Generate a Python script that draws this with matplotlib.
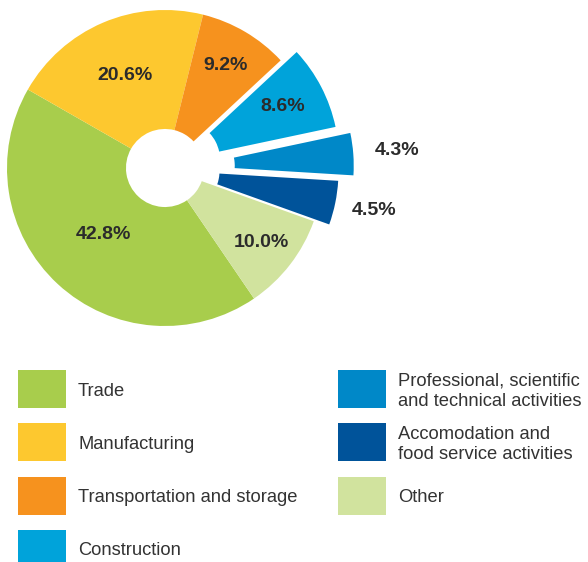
import numpy as np
import matplotlib
matplotlib.use("Agg")
import matplotlib.pyplot as plt
from matplotlib.patches import Rectangle

plt.rcParams["font.family"] = ["Liberation Sans", "DejaVu Sans"]

# data, in legend order (pie runs clockwise in this order)
sectors = [
    "Trade",
    "Manufacturing",
    "Transportation and storage",
    "Construction",
    "Professional, scientific\nand technical activities",
    "Accomodation and\nfood service activities",
    "Other",
]
shares = [42.8, 20.6, 9.2, 8.6, 4.3, 4.5, 10.0]
colors = ["#a8cd4c", "#fdc82f", "#f6921e", "#00a3da", "#0088c8", "#00539a", "#d1e39e"]

# styling
explode = [0, 0, 0, 0.114, 0.195, 0.10, 0]
label_r = [0.57, 0.64, 0.755, 0.84, 1.47, 1.35, 0.77]
text_color = "#2b2b2b"

W, H = 588, 562
R = 158.0  # pie radius in px
cx, cy = 165, 168  # pie centre in px (from top-left)

fig = plt.figure(figsize=(W / 100, H / 100), dpi=100)
ax = fig.add_axes([0, 0, 1, 1])

wedges, _ = ax.pie(
    shares,
    colors=colors,
    explode=explode,
    startangle=-55.7,
    counterclock=False,
    radius=1.0,
    wedgeprops=dict(width=0.753, linewidth=0),
)

for w, val, r in zip(wedges, shares, label_r):
    mid = np.deg2rad((w.theta1 + w.theta2) / 2)
    ax.text(
        r * np.cos(mid),
        r * np.sin(mid),
        f"{val:.1f}%",
        ha="center",
        va="center",
        fontsize=14,
        fontweight="bold",
        color=text_color,
    )

ax.set_xlim(-cx / R, (W - cx) / R)
ax.set_ylim(-(H - cy) / R, cy / R)
ax.set_aspect("auto")
ax.axis("off")

# legend, two columns drawn in pixel layout
col_x = [18, 338]
row_top = 370
row_step = 53.3
box_w, box_h = 48, 38
n_first = 4
for i, (name, c) in enumerate(zip(sectors, colors)):
    col = 0 if i < n_first else 1
    row = i if i < n_first else i - n_first
    top = row_top + row * row_step
    fig.patches.append(
        Rectangle(
            (col_x[col] / W, 1 - (top + box_h) / H),
            box_w / W,
            box_h / H,
            transform=fig.transFigure,
            facecolor=c,
            edgecolor="none",
        )
    )
    fig.text(
        (col_x[col] + 60) / W,
        1 - (top + box_h / 2 + 2) / H,
        name,
        ha="left",
        va="center",
        fontsize=13.2,
        color="#333333",
        linespacing=1.25,
    )

fig.savefig("out.png", dpi=100)
